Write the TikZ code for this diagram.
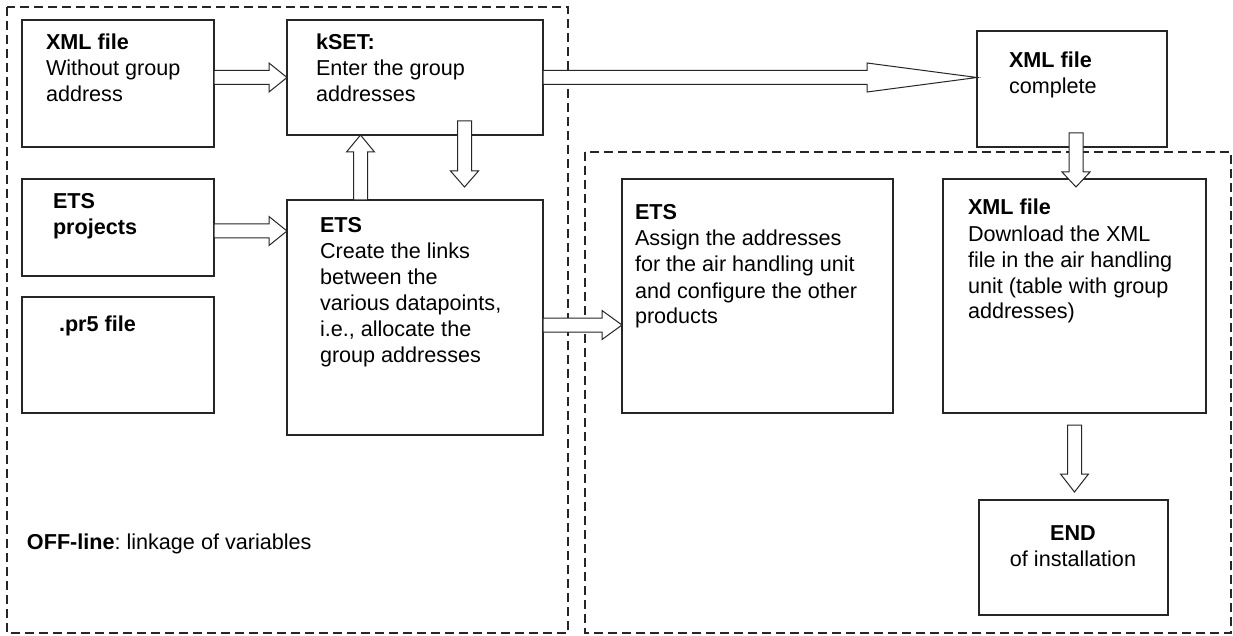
\documentclass[tikz,border=0pt]{standalone}
\usepackage{fontspec}
\setmainfont{Liberation Sans}
\usetikzlibrary{calc}
\frenchspacing
\newcommand\tl[1]{\begin{tabular}[t]{@{}l@{}}#1\end{tabular}}
\newcommand\tc[1]{\begin{tabular}[t]{@{}c@{}}#1\end{tabular}}
\newcommand\bx[5]{\node[box, minimum width={#4-#2}, minimum height={#5-#3}] (#1) at ({(#2+#4)/2},{(#3+#5)/2}) {};}
% rightward block arrow: start, end (x only), head length
\newcommand\harr[3]{\draw[blk] let \p1=(#1), \p2=(#2) in
  (\x1,\y1+7) -- (\x2-#3,\y1+7) -- (\x2-#3,\y1+14.5) -- (\x2,\y1) -- (\x2-#3,\y1-14.5) -- (\x2-#3,\y1-7) -- (\x1,\y1-7) -- cycle;}
% downward block arrow: start, end (y only), head length
\newcommand\darr[3]{\draw[blk] let \p1=(#1), \p2=(#2) in
  (\x1-7,\y1) -- (\x1-7,\y2+#3) -- (\x1-14,\y2+#3) -- (\x1,\y2) -- (\x1+14,\y2+#3) -- (\x1+7,\y2+#3) -- (\x1+7,\y1) -- cycle;}
% upward block arrow
\newcommand\uarr[3]{\draw[blk] let \p1=(#1), \p2=(#2) in
  (\x1-7,\y1) -- (\x1-7,\y2-#3) -- (\x1-14,\y2-#3) -- (\x1,\y2) -- (\x1+14,\y2-#3) -- (\x1+7,\y2-#3) -- (\x1+7,\y1) -- cycle;}
\begin{document}
\begin{tikzpicture}[x=1pt,y=-1pt,
  box/.style={draw=black!85, line width=1.5pt, inner sep=0pt, outer sep=0pt, fill=white},
  txt/.style={inner sep=0pt, outer sep=0pt, font=\fontsize{21.6}{26}\selectfont, text=black},
  blk/.style={draw=black!85, line width=1pt, fill=white, line join=miter},
  dashbox/.style={draw=black!85, line width=1.2pt, dash pattern=on 9pt off 5pt}]
\useasboundingbox (0,0) rectangle (1233,636);
\fill[white] (0,0) rectangle (1233,636);
% dashed regions
\draw[dashbox] (7,7) rectangle (568,633);
\draw[dashbox] (585,152) rectangle (1231,633);
% boxes
\bx{xml}{22}{20}{214}{147}
\bx{kset}{287}{20}{543}{135}
\bx{etsp}{22}{179}{214}{276}
\bx{pr5}{22}{297}{214}{413}
\bx{ets1}{287}{200}{543}{435}
\bx{xmlc}{977}{31}{1167}{147}
\bx{ets2}{622}{179}{893}{413}
\bx{xml2}{943}{179}{1206}{413}
\bx{endb}{979}{500}{1168}{615}
% texts
\node[txt, anchor=base west] (txml) at (46,50) {\tl{\textbf{XML file}\\Without group\\address}};
\node[txt, anchor=base west] (tkset) at (316,50) {\tl{\textbf{kSET:}\\Enter the group\\addresses}};
\node[txt, anchor=base west] (tetsp) at (53,209) {\tl{\textbf{ETS}\\\textbf{projects}}};
\node[txt, anchor=base west] (tpr5) at (59,331) {\textbf{.pr5 file}};
\node[txt, anchor=base west] (tets1) at (320,233) {\tl{\textbf{ETS}\\Create the links\\between the\\various datapoints,\\i.e., allocate the\\group addresses}};
\node[txt, anchor=base west] (txmlc) at (1009,68) {\tl{\textbf{XML file}\\complete}};
\node[txt, anchor=base west] (tets2) at (635,220) {\tl{\textbf{ETS}\\Assign the addresses\\for the air handling unit\\and configure the other\\products}};
\node[txt, anchor=base west] (txml2) at (968,215) {\tl{\textbf{XML file}\\Download the XML\\file in the air handling\\unit (table with group\\addresses)}};
\node[txt, anchor=base] (tend) at (1073,540) {\tc{\textbf{END}\\of installation}};
\node[txt, anchor=base west] (toff) at (27,549) {\textbf{OFF-line}: linkage of variables};
% block arrows
\harr{xml.east |- kset.west}{kset.west}{18}
\harr{kset.east}{xmlc.west}{110}
\harr{[yshift=-3.5pt]etsp.east}{ets1.west}{18}
\harr{[yshift=-7.5pt]ets1.east}{ets2.west}{20}
\uarr{[xshift=-54.5pt]ets1.north}{kset.south}{17}
\darr{[xshift=49.5pt,yshift=14pt]kset.south}{[yshift=13pt]ets1.north}{16}
\darr{[xshift=4pt,yshift=14pt]xmlc.south}{[yshift=-8pt]xml2.north}{15}
\darr{[yshift=-12pt]xml2.south}{[yshift=8pt]endb.north}{18}
\end{tikzpicture}
\end{document}
